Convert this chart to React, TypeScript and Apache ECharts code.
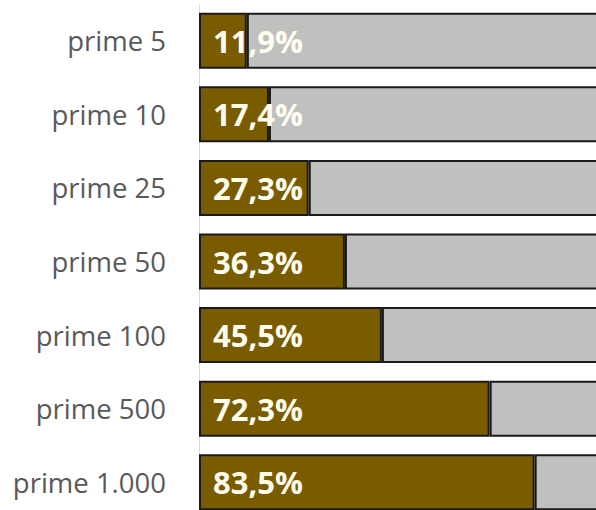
import React, { useEffect, useRef } from "react";
import * as echarts from "echarts";

const categories = ["prime 5", "prime 10", "prime 25", "prime 50", "prime 100", "prime 500", "prime 1.000"];
const shares = [11.9, 17.4, 27.3, 36.3, 45.5, 72.3, 83.5];
const total = 100;
const rest = shares.map((v) => +(total - v).toFixed(1));

export default function App() {
  const ref = useRef<HTMLDivElement>(null);
  useEffect(() => {
    document.body.style.margin = "0";
    const chart = echarts.init(ref.current!, null, { renderer: "svg" });
    chart.setOption({
      animation: false,
      grid: { left: 199, top: 4, width: 402, height: 515, containLabel: false },
      xAxis: { type: "value", min: 0, max: total, show: false },
      yAxis: {
        type: "category",
        data: categories,
        inverse: true,
        axisTick: { show: false },
        axisLine: { show: true, lineStyle: { color: "#d9d9d9", width: 1 } },
        axisLabel: {
          margin: 33,
          color: "#595959",
          fontFamily: "Open Sans",
          fontSize: 27.5,
        },
      },
      series: [
        {
          type: "bar",
          stack: "s",
          data: shares,
          barWidth: 56,
          itemStyle: { color: "#7a5c00", borderColor: "#1a1a1a", borderWidth: 2 },
          label: {
            show: true,
            position: "insideLeft",
            distance: 14,
            formatter: (p: any) => p.value.toFixed(1).replace(".", ",") + "%",
            color: "#fffdf0",
            fontFamily: "Open Sans",
            fontWeight: "bold",
            fontSize: 31,
          },
        },
        {
          type: "bar",
          stack: "s",
          data: rest,
          barWidth: 56,
          itemStyle: { color: "#bfc1be", borderColor: "#1a1a1a", borderWidth: 2 },
        },
      ],
    });
    return () => chart.dispose();
  }, []);
  return (
    <div style={{ width: 596, height: 510, overflow: "hidden" }}>
      <div ref={ref} style={{ width: 620, height: 530 }} />
    </div>
  );
}
